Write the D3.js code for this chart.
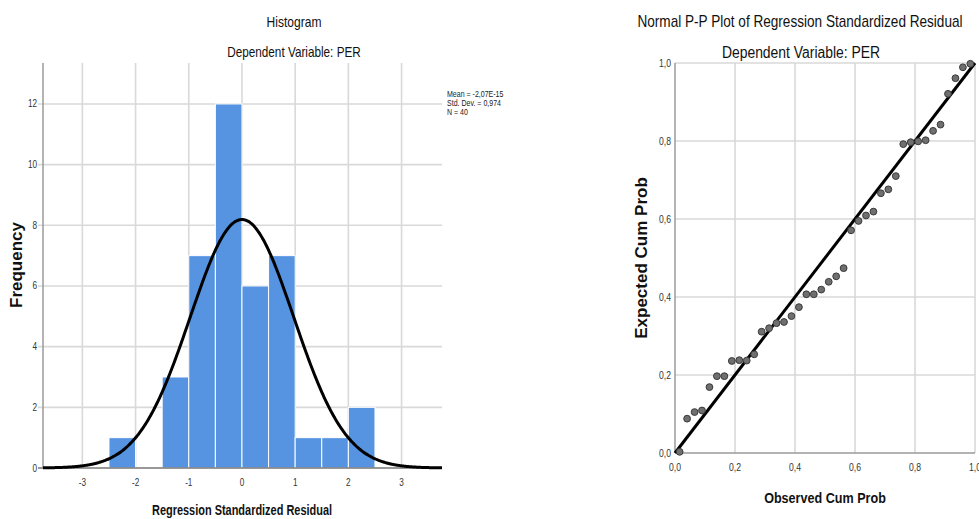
<!DOCTYPE html>
<html>
<head>
<meta charset="utf-8">
<script src="https://cdn.jsdelivr.net/npm/d3@7"></script>
<style>
  body { margin: 0; background: #fff; }
  svg { display: block; }
  text { font-family: 'Liberation Sans', Arial, sans-serif; }
</style>
</head>
<body>
<svg id="chart" width="979" height="519"></svg>
<script>
'use strict'

/****** DATA ******/

// Histogram: bin edges (width 0.5) and frequencies
const binStarts = [-2.5, -1.5, -1.0, -0.5, 0.0, 0.5, 1.0, 1.5, 2.0]
const binCounts = [1, 3, 7, 12, 6, 7, 1, 1, 2]
const binWidth = 0.5
const histXTicks = [-3, -2, -1, 0, 1, 2, 3]
const histYTicks = [0, 2, 4, 6, 8, 10, 12]
const statLines = ['Mean = -2,07E-15', 'Std. Dev. = 0,974', 'N = 40']
const statMean = -2.07e-15
const statSd = 0.974
const statN = 40

// P-P plot: expected cum prob, one per ordered residual
const expectedCumProb = [
  0.003, 0.088, 0.105, 0.109, 0.169, 0.197, 0.197, 0.236, 0.238, 0.237,
  0.253, 0.311, 0.320, 0.333, 0.336, 0.351, 0.374, 0.407, 0.407, 0.419,
  0.439, 0.453, 0.474, 0.571, 0.595, 0.609, 0.619, 0.666, 0.676, 0.710,
  0.792, 0.797, 0.799, 0.802, 0.826, 0.842, 0.921, 0.961, 0.989, 0.998
]
const ppTicks = [0, 0.2, 0.4, 0.6, 0.8, 1.0]

const commaFmt = d => d3.format('.1f')(d).replace('.', ',')

/****** SETUP ******/

const svg = d3.select('#chart')
const GRID = '#d9d9d9'
const AXIS = '#9a9a9a'
const SQUEEZE = 0.82 // source picture is horizontally compressed

// horizontally condensed text anchored at (x, y)
function narrowText(g, x, y, str, size, opts = {}) {
  return g.append('text')
    .attr('transform', `translate(${x},${y}) scale(${opts.sx || SQUEEZE},1)`)
    .attr('text-anchor', opts.anchor || 'middle')
    .attr('font-size', size)
    .attr('font-weight', opts.bold ? 'bold' : null)
    .attr('fill', opts.fill || '#111')
    .text(str)
}

/****** HISTOGRAM ******/

const hx = d3.scaleLinear().domain([-3.74, 3.76]).range([43, 442])
const hy = d3.scaleLinear().domain([0, 13.35]).range([468, 63])

const hist = svg.append('g')

// grid
hist.selectAll('.vgrid')
  .data(histXTicks)
  .join('line')
    .attr('x1', d => hx(d)).attr('x2', d => hx(d))
    .attr('y1', hy.range()[1]).attr('y2', hy(0))
    .attr('stroke', GRID).attr('stroke-width', 1.6)

hist.selectAll('.hgrid')
  .data(histYTicks.filter(d => d > 0))
  .join('line')
    .attr('x1', hx.range()[0] - 5).attr('x2', hx.range()[1])
    .attr('y1', d => hy(d)).attr('y2', d => hy(d))
    .attr('stroke', GRID).attr('stroke-width', 1.6)

// bars
hist.selectAll('rect')
  .data(binStarts.map((s, i) => ({ x0: s, x1: s + binWidth, n: binCounts[i] })))
  .join('rect')
    .attr('x', d => hx(d.x0))
    .attr('width', d => hx(d.x1) - hx(d.x0))
    .attr('y', d => hy(d.n))
    .attr('height', d => hy(0) - hy(d.n))
    .attr('fill', '#5694e2')
    .attr('stroke', '#fff')
    .attr('stroke-width', 1)

// axes lines
hist.append('line')
  .attr('x1', hx.range()[0]).attr('x2', hx.range()[0])
  .attr('y1', hy.range()[1]).attr('y2', hy(0))
  .attr('stroke', AXIS).attr('stroke-width', 1.5)
hist.append('line')
  .attr('x1', hx.range()[0] - 5).attr('x2', hx.range()[1])
  .attr('y1', hy(0)).attr('y2', hy(0))
  .attr('stroke', '#777').attr('stroke-width', 1.5)

// normal curve from the stats
const density = d3.range(-3.74, 3.761, 0.02).map(v => ({
  v,
  f: statN * binWidth / (statSd * Math.sqrt(2 * Math.PI)) *
     Math.exp(-0.5 * Math.pow((v - statMean) / statSd, 2))
}))
hist.append('path')
  .datum(density)
  .attr('fill', 'none')
  .attr('stroke', '#000')
  .attr('stroke-width', 3)
  .attr('d', d3.line().x(d => hx(d.v)).y(d => hy(d.f)).curve(d3.curveBasis))

// tick labels
histXTicks.forEach(d => narrowText(hist, hx(d), 486, d, 10, { fill: '#333' }))
histYTicks.forEach(d => narrowText(hist, 37, hy(d) + 3.5, d, 10, { fill: '#333', anchor: 'end' }))

// stats box
statLines.forEach((d, i) =>
  narrowText(hist, 447, 97 + i * 9, d, 8.8, { fill: '#222', anchor: 'start', sx: 0.8 }))

// titles
narrowText(hist, 294, 27, 'Histogram', 14, { sx: 0.86 })
narrowText(hist, 294, 57, 'Dependent Variable: PER', 14, { sx: 0.84 })
narrowText(hist, 242, 515, 'Regression Standardized Residual', 15, { bold: true, sx: 0.73 })
hist.append('text')
  .attr('transform', 'translate(22,265) rotate(-90)')
  .attr('text-anchor', 'middle')
  .attr('font-size', 17).attr('font-weight', 'bold').attr('fill', '#111')
  .text('Frequency')

/****** P-P PLOT ******/

const px = d3.scaleLinear().domain([0, 1]).range([675, 975])
const py = d3.scaleLinear().domain([0, 1]).range([453, 63])

const pp = svg.append('g')

pp.selectAll('.vgrid')
  .data(ppTicks.filter(d => d > 0))
  .join('line')
    .attr('x1', d => px(d)).attr('x2', d => px(d))
    .attr('y1', py(1)).attr('y2', py(0))
    .attr('stroke', GRID).attr('stroke-width', 1.6)

pp.selectAll('.hgrid')
  .data(ppTicks.filter(d => d > 0))
  .join('line')
    .attr('x1', px(0)).attr('x2', px(1))
    .attr('y1', d => py(d)).attr('y2', d => py(d))
    .attr('stroke', GRID).attr('stroke-width', 1.6)

pp.append('line')
  .attr('x1', px(0)).attr('x2', px(0))
  .attr('y1', py(1)).attr('y2', py(0))
  .attr('stroke', AXIS).attr('stroke-width', 1.5)
pp.append('line')
  .attr('x1', px(0)).attr('x2', px(1))
  .attr('y1', py(0)).attr('y2', py(0))
  .attr('stroke', AXIS).attr('stroke-width', 1.5)

// reference diagonal
pp.append('line')
  .attr('x1', px(0)).attr('y1', py(0))
  .attr('x2', px(1)).attr('y2', py(1))
  .attr('stroke', '#000').attr('stroke-width', 3)

// points: observed cum prob by Blom's rank
const n = expectedCumProb.length
pp.selectAll('circle')
  .data(expectedCumProb.map((e, i) => ({ obs: (i + 1 - 0.375) / (n + 0.25), exp: e })))
  .join('circle')
    .attr('cx', d => px(d.obs))
    .attr('cy', d => py(d.exp))
    .attr('r', 3.4)
    .attr('fill', '#6f6f6f')
    .attr('stroke', '#3a3a3a')
    .attr('stroke-width', 1)

ppTicks.forEach(d => narrowText(pp, px(d), 471, commaFmt(d), 10.5, { fill: '#333' }))
ppTicks.forEach(d => narrowText(pp, 671, py(d) + 4, commaFmt(d), 10.5, { fill: '#333', anchor: 'end' }))

narrowText(pp, 800, 27, 'Normal P-P Plot of Regression Standardized Residual', 16, { sx: 0.85 })
narrowText(pp, 801, 58, 'Dependent Variable: PER', 16, { sx: 0.87 })
narrowText(pp, 825, 503, 'Observed Cum Prob', 15, { bold: true, sx: 0.84 })
pp.append('text')
  .attr('transform', 'translate(647,258) rotate(-90)')
  .attr('text-anchor', 'middle')
  .attr('font-size', 17).attr('font-weight', 'bold').attr('fill', '#111')
  .text('Expected Cum Prob')
</script>
</body>
</html>
